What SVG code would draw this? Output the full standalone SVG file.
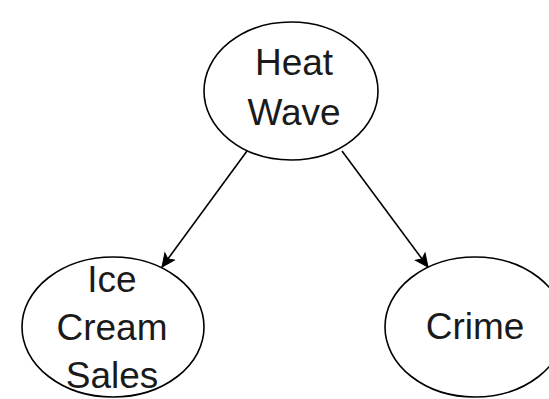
<svg xmlns="http://www.w3.org/2000/svg" width="549" height="399" viewBox="0 0 549 399">
  <style>
    .node ellipse { fill: #ffffff; stroke: #000000; stroke-width: 1.6; }
    .node text { font-family: "Liberation Sans", Arial, sans-serif; font-size: 37px; fill: #1a1a1a; text-anchor: middle; }
    .edge { stroke: #000000; stroke-width: 1.6; fill: none; marker-end: url(#arrow); }
  </style>
  <defs>
    <marker id="arrow" markerUnits="userSpaceOnUse" markerWidth="16" markerHeight="16" viewBox="0 0 16 16" refX="14" refY="8" orient="auto">
      <path d="M1,2 L14,8 L1,14 L4,8 Z" fill="#000000" stroke="#000000" stroke-width="1" stroke-linejoin="miter"/>
    </marker>
  </defs>
  <rect width="549" height="399" fill="#ffffff"/>

  <g id="connectors">
    <line class="edge" x1="247" y1="151" x2="162" y2="267"/>
    <line class="edge" x1="342" y1="151" x2="428" y2="267"/>
  </g>

  <g id="heat-wave" class="node">
    <ellipse cx="291" cy="91" rx="87" ry="69"/>
    <text x="294" y="75">Heat</text>
    <text x="294" y="125">Wave</text>
  </g>

  <g id="ice-cream-sales" class="node">
    <ellipse cx="113" cy="327" rx="91" ry="70"/>
    <text x="112" y="292">Ice</text>
    <text x="112" y="340">Cream</text>
    <text x="112" y="388">Sales</text>
  </g>

  <g id="crime" class="node">
    <ellipse cx="475" cy="327" rx="90" ry="70"/>
    <text x="475" y="339">Crime</text>
  </g>
</svg>
